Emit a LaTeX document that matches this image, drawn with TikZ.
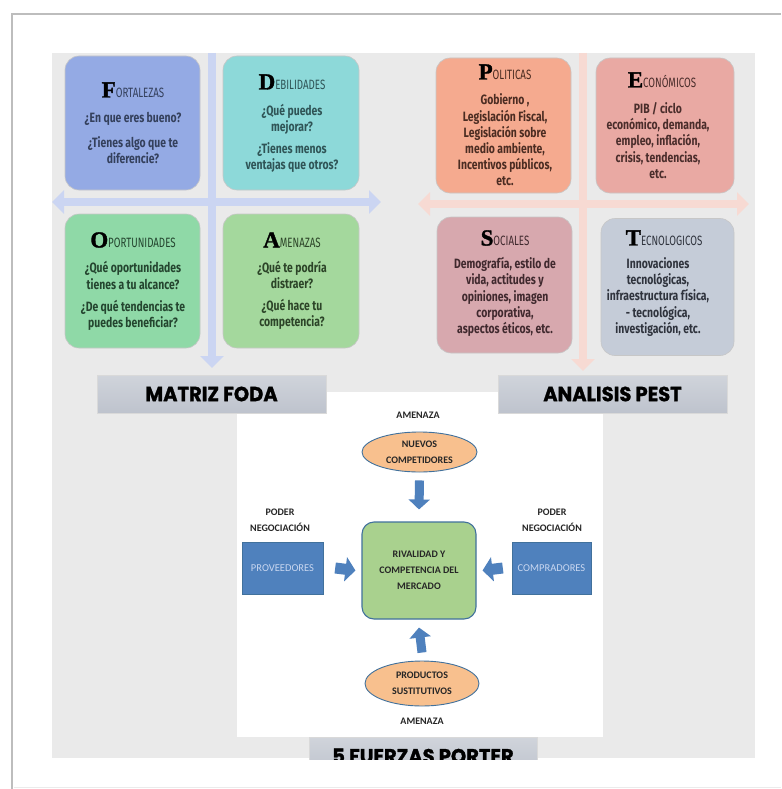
\documentclass[tikz,border=0pt]{standalone}
\usepackage{fontspec}
\setmainfont{Fira Sans}
\newfontfamily\condfont{Fira Sans}[FakeStretch=0.77]
\newfontfamily\titlefont{Fira Sans}[FakeStretch=0.72]
\newfontfamily\capfont{Liberation Serif}[BoldFeatures={FakeBold=1.5}]
\newfontfamily\heavyfont{Poppins}[FakeStretch=0.95, BoldFeatures={FakeBold=1.2}]
\newfontfamily\calfont{Carlito}
\usetikzlibrary{arrows.meta,shapes.geometric}

% panels
\definecolor{panelgray}{HTML}{EAEAEA}
\definecolor{framegray}{HTML}{BDBDBD}
% SWOT quadrants
\definecolor{fortFill}{HTML}{94AAE4}
\definecolor{fortText}{HTML}{34405C}
\definecolor{debiFill}{HTML}{8DD9D9}
\definecolor{debiText}{HTML}{2F5456}
\definecolor{oporFill}{HTML}{8FD9A7}
\definecolor{oporText}{HTML}{24452F}
\definecolor{amenFill}{HTML}{A4D89D}
\definecolor{amenText}{HTML}{2C4428}
\definecolor{fodaAxis}{HTML}{CBD5F2}
% PEST quadrants
\definecolor{poliFill}{HTML}{F5AA8F}
\definecolor{poliText}{HTML}{4B2C22}
\definecolor{econFill}{HTML}{E9A9A3}
\definecolor{econText}{HTML}{4A2D2B}
\definecolor{sociFill}{HTML}{D7A8AE}
\definecolor{sociText}{HTML}{40292E}
\definecolor{tecnFill}{HTML}{C5CCD8}
\definecolor{tecnText}{HTML}{2F333D}
\definecolor{pestAxis}{HTML}{F7DAD3}
% titles
\definecolor{labelTop}{HTML}{D0D4DB}
\definecolor{labelBot}{HTML}{BEC3CD}
% Porter
\definecolor{porterOrange}{HTML}{F8C08E}
\definecolor{porterGreen}{HTML}{A9D18E}
\definecolor{porterEdge}{HTML}{41719C}
\definecolor{porterBlue}{HTML}{4F81BD}
\definecolor{porterBlueText}{HTML}{C9D7F0}

\newcommand\initial[1]{{\capfont\bfseries\fontsize{23}{23}\selectfont\color{black}#1}}

\tikzset{
  quad/.style={rounded corners=14pt, draw=black!22, line width=0.6pt,
    minimum width=135pt, minimum height=134pt, inner sep=0pt},
  qtitle/.style={inner sep=0pt, font=\titlefont\fontsize{13.5}{14}\selectfont},
  qbody/.style={inner sep=0pt, align=center, font=\condfont\bfseries\fontsize{13.5}{16.2}\selectfont},
  axis/.style={line width=8pt, draw=#1},
  labelbox/.style={minimum width=229pt, minimum height=38pt, inner sep=0pt,
    top color=labelTop, bottom color=labelBot, draw=black!15,
    font=\heavyfont\bfseries\fontsize{20.5}{21}\selectfont},
  calb/.style={font=\calfont\bfseries\fontsize{10}{16}\selectfont, text=black!85, align=center},
  ell/.style={ellipse, draw=porterEdge, line width=0.9pt, fill=porterOrange,
    inner sep=0pt, calb},
  bluebox/.style={draw=porterEdge, fill=porterBlue, minimum height=52pt, inner sep=0pt,
    font=\calfont\fontsize{10.5}{12}\selectfont, text=porterBlueText},
  blockarr/.style={line width=9pt, draw=porterBlue,
    -{Triangle[length=10pt,width=21pt]}},
}

\begin{document}
\begin{tikzpicture}[x=1pt,y=-1pt]
\useasboundingbox (0,0) rectangle (781,789);
\fill[white] (0,0) rectangle (781,789);

% page edge
\draw[line width=2pt, framegray] (12,789) -- (12,14) -- (781,14);
\draw[line width=0.8pt, black!8] (14,787) -- (781,787);

% grey backdrop and white Porter panel
\fill[panelgray] (52,53) rectangle (755,758);
\fill[white] (237,392) rectangle (603,737);

% ---------- SWOT ----------
\coordinate (fodaW) at (52,202);
\coordinate (fodaE) at (381,202);
\coordinate (fodaN) at (212,53);
\coordinate (fodaS) at (212,368);
\draw[axis=fodaAxis, {Triangle[length=12pt,width=23pt]}-{Triangle[length=12pt,width=23pt]}] (fodaW) -- (fodaE);
\draw[axis=fodaAxis, -{Triangle[length=12pt,width=23pt]}] (fodaN) -- (fodaS);

\node[quad, fill=fortFill] (fort) at (132.5,123) {};
\node[quad, fill=debiFill, minimum width=136pt] (debi) at (291,123) {};
\node[quad, fill=oporFill] (opor) at (132.5,281) {};
\node[quad, fill=amenFill, minimum width=136pt] (amen) at (291,281) {};

\node[qtitle, text=fortText] (fortT) at (133,90) {\initial{F}ORTALEZAS};
\node[qbody, text=fortText] (fortB) at (133,138)
  {¿En que eres bueno?\\[8pt]¿Tienes algo que te\\diferencie?};

\node[qtitle, text=debiText] (debiT) at (292,82) {\initial{D}EBILIDADES};
\node[qbody, text=debiText] (debiB) at (292,138.5)
  {¿Qué puedes\\mejorar?\\[6pt]¿Tienes menos\\ventajas que otros?};

\node[qtitle, text=oporText] (oporT) at (133,240) {\initial{O}PORTUNIDADES};
\node[qbody, text=oporText] (oporB) at (133,296)
  {¿Qué oportunidades\\tienes a tu alcance?\\[6pt]¿De qué tendencias te\\puedes beneficiar?};

\node[qtitle, text=amenText] (amenT) at (292,240) {\initial{A}MENAZAS};
\node[qbody, text=amenText] (amenB) at (292,295.5)
  {¿Qué te podría\\distraer?\\[6pt]¿Qué hace tu\\competencia?};

\node[labelbox] (foda) at (211.5,394) {MATRIZ FODA};

% ---------- PEST ----------
\coordinate (pestW) at (418,204);
\coordinate (pestE) at (749,204);
\coordinate (pestN) at (583,53);
\coordinate (pestS) at (583,371);
\draw[axis=pestAxis, {Triangle[length=12pt,width=23pt]}-{Triangle[length=12pt,width=23pt]}] (pestW) -- (pestE);
\draw[axis=pestAxis, -{Triangle[length=12pt,width=23pt]}] (pestN) -- (pestS);

\node[quad, fill=poliFill, minimum height=135pt] (poli) at (503.5,125.5) {};
\node[quad, fill=econFill, minimum width=138pt, minimum height=135pt] (econ) at (665,125.5) {};
\node[quad, fill=sociFill, minimum height=136pt] (soci) at (504.5,285) {};
\node[quad, fill=tecnFill, minimum width=133pt, minimum height=137pt] (tecn) at (667.5,287) {};

\node[qtitle, text=poliText] (poliT) at (505,72) {\initial{P}OLITICAS};
\node[qbody, text=poliText] (poliB) at (505,140)
  {Gobierno ,\\Legislación Fiscal,\\Legislación sobre\\medio ambiente,\\Incentivos públicos,\\etc.};

\node[qtitle, text=econText] (econT) at (662,80) {\initial{E}CONÓMICOS};
\node[qbody, text=econText] (econB) at (658,140.5)
  {PIB / ciclo\\económico, demanda,\\empleo, inflación,\\crisis, tendencias,\\etc.};

\node[qtitle, text=sociText] (sociT) at (505,238) {\initial{S}OCIALES};
\node[qbody, text=sociText] (sociB) at (505,297)
  {Demografía, estilo de\\vida, actitudes y\\opiniones, imagen\\corporativa,\\aspectos éticos, etc.};

\node[qtitle, text=tecnText] (tecnT) at (664,238) {\initial{T}ECNOLOGICOS};
\node[qbody, text=tecnText] (tecnB) at (658,297)
  {Innovaciones\\tecnológicas,\\infraestructura física,\\- tecnológica,\\investigación, etc.};

\node[labelbox] (pest) at (612.5,394) {ANALISIS PEST};

% ---------- Porter ----------
\node[calb] (amenTop) at (418,415) {AMENAZA};
\node[ell, minimum width=115pt, minimum height=40pt] (nuevos) at (419.5,452)
  {NUEVOS\\COMPETIDORES};
\node[draw=porterEdge, line width=1.1pt, fill=porterGreen, rounded corners=12pt,
  minimum width=114pt, minimum height=97pt, inner sep=0pt, calb] (rival) at (419,570.5)
  {RIVALIDAD Y\\COMPETENCIA DEL\\MERCADO};
\node[ell, minimum width=114pt, minimum height=45pt] (sustit) at (422,683.5)
  {PRODUCTOS\\SUSTITUTIVOS};
\node[calb] (amenBot) at (422,721) {AMENAZA};

\node[calb] (poderL) at (280,520) {PODER\\NEGOCIACIÓN};
\node[calb] (poderR) at (552,520) {PODER\\NEGOCIACIÓN};
\node[bluebox, minimum width=81pt] (prov) at (282.5,568) {PROVEEDORES};
\node[bluebox, minimum width=79pt] (comp) at (551.5,568) {COMPRADORES};

\draw[blockarr] ([yshift=-8pt]nuevos.south) -- ([yshift=12pt]rival.north);
\draw[blockarr] ([yshift=8pt]sustit.north) -- ([yshift=-8pt]rival.south);
\draw[blockarr, line width=11pt, -{Triangle[length=10pt,width=24pt]}]
  ([xshift=12pt]prov.east) -- ([xshift=-6pt]rival.west);
\draw[blockarr, line width=11pt, -{Triangle[length=10pt,width=24pt]}]
  ([xshift=-9pt]comp.west) -- ([xshift=6pt]rival.east);

% title of the Porter block, cut by the lower edge of the backdrop
\begin{scope}
  \clip (52,53) rectangle (755,759.5);
  \node[labelbox, minimum width=228pt] (porter) at (423,756) {5 FUERZAS PORTER};
\end{scope}
\end{tikzpicture}
\end{document}
